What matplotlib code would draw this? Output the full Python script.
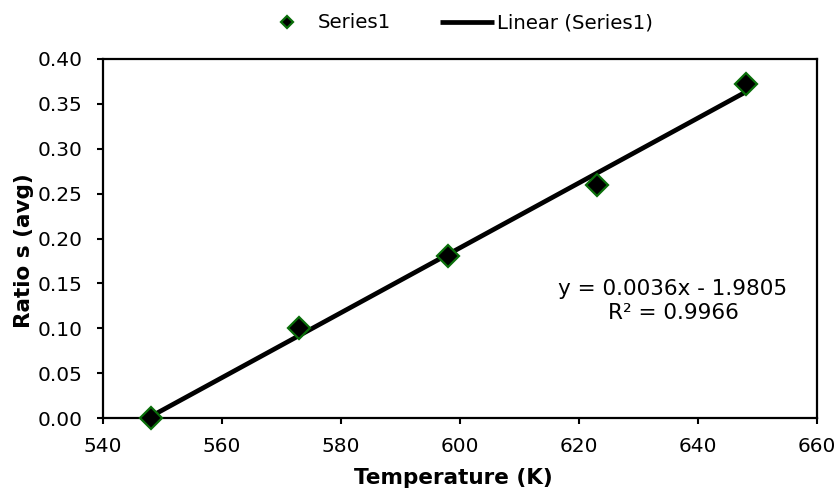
import numpy as np
import matplotlib
matplotlib.use("Agg")
import matplotlib.pyplot as plt

plt.rcParams['font.family'] = ['DejaVu Sans']

# data
temperature = [548, 573, 598, 623, 648]
ratio_s = [0.000, 0.100, 0.180, 0.260, 0.372]
x_ticks = [540, 560, 580, 600, 620, 640, 660]
y_ticks = [0.00, 0.05, 0.10, 0.15, 0.20, 0.25, 0.30, 0.35, 0.40]
eq_text = "y = 0.0036x - 1.9805\nR² = 0.9966"

fig = plt.figure(figsize=(8.4, 4.91), dpi=100)
ax = fig.add_axes([103 / 840, 1 - 418 / 491, (817 - 103) / 840, (418 - 59) / 491])

# linear trend line
coef = np.polyfit(temperature, ratio_s, 1)
xs = np.array([temperature[0], temperature[-1]])
ax.plot(xs, np.polyval(coef, xs), color='black', lw=3.4,
        solid_capstyle='butt', label='Linear (Series1)', zorder=2)

ax.plot(temperature, ratio_s, linestyle='none', marker='D', ms=11,
        mfc='black', mec='#0a6e0a', mew=1.6, label='Series1', zorder=3,
        clip_on=False)

ax.set_xlim(540, 660)
ax.set_ylim(0, 0.40)
ax.set_xticks(x_ticks)
ax.set_yticks(y_ticks)
ax.set_yticklabels(["%.2f" % v for v in y_ticks])
ax.tick_params(direction='out', length=4.5, width=1.5, labelsize=14.5)
ax.tick_params(axis='y', pad=10.5)
ax.tick_params(axis='x', pad=9)
for s in ax.spines.values():
    s.set_linewidth(1.6)

fig.text(453 / 840, 1 - 478 / 491, "Temperature (K)", ha='center', va='center',
         fontsize=15.5, fontweight='bold')
fig.text(24 / 840, 1 - 251 / 491, "Ratio s (avg)", ha='center', va='center',
         rotation=90, fontsize=15.5, fontweight='bold')

fig.text(673 / 840, 1 - 301 / 491, eq_text, ha='center', va='center',
         fontsize=15.5, linespacing=1.2)

h, l = ax.get_legend_handles_labels()
fig.legend(h[::-1], l[::-1], loc='center', bbox_to_anchor=(457 / 840, 1 - 23 / 491),
           ncol=2, frameon=False, fontsize=14.2, handlelength=2.7,
           handletextpad=0.2, columnspacing=2.5, markerscale=0.6)

fig.savefig("out.png", dpi=100)
